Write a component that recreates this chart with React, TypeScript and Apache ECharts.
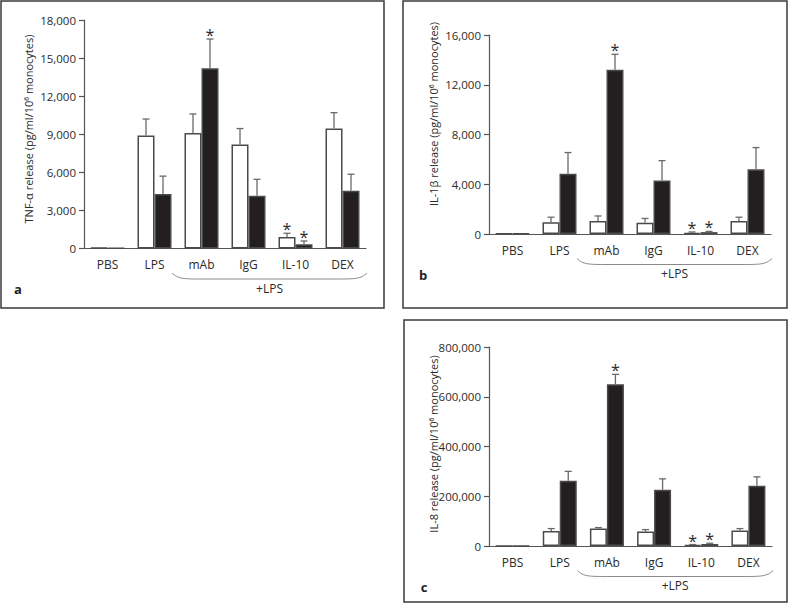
import React, { useEffect, useRef } from 'react';
import * as echarts from 'echarts';

const FONT = '"Open Sans", "Noto Sans", "DejaVu Sans", sans-serif';

const categories = ['PBS', 'LPS', 'mAb', 'IgG', 'IL-10', 'DEX'];

// Panel a: TNF-α
const tnfOpen = [60, 8900, 9100, 8200, 900, 9450];
const tnfOpenSd = [0, 1300, 1500, 1250, 300, 1250];
const tnfFilled = [20, 4300, 14200, 4150, 330, 4550];
const tnfFilledSd = [0, 1400, 2300, 1300, 260, 1300];
const tnfOpenStar = [0, 0, 0, 0, 1, 0];
const tnfFilledStar = [0, 0, 1, 0, 1, 0];

// Panel b: IL-1β
const il1Open = [30, 950, 1050, 900, 100, 1050];
const il1OpenSd = [0, 400, 400, 350, 60, 300];
const il1Filled = [40, 4850, 13200, 4300, 150, 5200];
const il1FilledSd = [0, 1700, 1250, 1600, 60, 1750];
const il1OpenStar = [0, 0, 0, 0, 1, 0];
const il1FilledStar = [0, 0, 1, 0, 1, 0];

// Panel c: IL-8
const il8Open = [1000, 60000, 70000, 58000, 4000, 62000];
const il8OpenSd = [0, 10000, 4000, 8000, 2000, 8000];
const il8Filled = [1000, 262000, 650000, 226000, 8000, 242000];
const il8FilledSd = [0, 38000, 40000, 44000, 3000, 36000];
const il8OpenStar = [0, 0, 0, 0, 1, 0];
const il8FilledStar = [0, 0, 1, 0, 1, 0];

const panels = [
  {
    letter: 'a', title: 'TNF-α release (pg/ml/10⁶ monocytes)',
    open: tnfOpen, openSd: tnfOpenSd, filled: tnfFilled, filledSd: tnfFilledSd,
    openStar: tnfOpenStar, filledStar: tnfFilledStar,
    max: 18000, interval: 3000,
    grid: { left: 84, top: 20, width: 282, height: 228.5 },
    box: { x: 1, y: 1, width: 383, height: 307 },
    titlePos: [28, 129],
  },
  {
    letter: 'b', title: 'IL-1β release (pg/ml/10⁶ monocytes)',
    open: il1Open, openSd: il1OpenSd, filled: il1Filled, filledSd: il1FilledSd,
    openStar: il1OpenStar, filledStar: il1FilledStar,
    max: 16000, interval: 4000,
    grid: { left: 489, top: 35, width: 282, height: 199 },
    box: { x: 403, y: 1, width: 384, height: 307 },
    titlePos: [433, 114],
  },
  {
    letter: 'c', title: 'IL-8 release (pg/ml/10⁶ monocytes)',
    open: il8Open, openSd: il8OpenSd, filled: il8Filled, filledSd: il8FilledSd,
    openStar: il8OpenStar, filledStar: il8FilledStar,
    max: 800000, interval: 200000,
    grid: { left: 489, top: 347, width: 283, height: 199 },
    box: { x: 404, y: 320, width: 383, height: 282 },
    titlePos: [433, 444],
  },
];

const AXIS = '#555';
const TEXT = '#2a2a2a';
const BAR_W = 17;

function errorSeries(idx: number, values: number[], sds: number[], stars: number[], offset: number) {
  return {
    type: 'custom',
    xAxisIndex: idx,
    yAxisIndex: idx,
    z: 5,
    silent: true,
    data: values.map((v, i) => [i, v, sds[i], stars[i]]),
    encode: { x: 0, y: 1 },
    renderItem: (params: any, api: any) => {
      const i = api.value(0);
      const v = api.value(1);
      const sd = api.value(2);
      const st = api.value(3);
      const base = api.coord([i, v]);
      const top = api.coord([i, v + sd]);
      const x = base[0] + offset;
      const children: any[] = [];
      if (sd > 0) {
        children.push({ type: 'line', shape: { x1: x, y1: base[1], x2: x, y2: top[1] }, style: { stroke: '#6a6a6a', lineWidth: 1.3 } });
        children.push({ type: 'line', shape: { x1: x - 3.5, y1: top[1], x2: x + 3.5, y2: top[1] }, style: { stroke: '#6a6a6a', lineWidth: 1.3 } });
      }
      if (st) {
        children.push({ type: 'text', x, y: top[1] - 4, style: { text: '*', fontSize: 16, fill: TEXT, align: 'center', verticalAlign: 'middle', fontFamily: FONT } });
      }
      return { type: 'group', children };
    },
  };
}

function buildOption() {
  const grid: any[] = [];
  const xAxis: any[] = [];
  const yAxis: any[] = [];
  const series: any[] = [];
  const graphic: any[] = [];

  panels.forEach((p, idx) => {
    grid.push({ ...p.grid, containLabel: false });
    xAxis.push({
      type: 'category', gridIndex: idx, data: categories,
      axisLine: { lineStyle: { color: AXIS, width: 1.2 } },
      axisTick: { length: 5, lineStyle: { color: AXIS, width: 1.2 } },
      axisLabel: { color: TEXT, fontSize: 12, fontFamily: FONT, margin: 10 },
    });
    yAxis.push({
      type: 'value', gridIndex: idx, min: 0, max: p.max, interval: p.interval,
      axisLine: { show: true, lineStyle: { color: AXIS, width: 1.2 } },
      axisTick: { show: true, length: 5, lineStyle: { color: AXIS, width: 1.2 } },
      splitLine: { show: false },
      axisLabel: { color: TEXT, fontSize: 11.5, fontFamily: FONT, margin: 8, formatter: (v: number) => v.toLocaleString('en-US') },
    });
    series.push({
      type: 'bar', xAxisIndex: idx, yAxisIndex: idx, data: p.open, barWidth: BAR_W, barGap: '0%',
      itemStyle: { color: '#ffffff', borderColor: '#4a4a4a', borderWidth: 1.5 },
    });
    series.push({
      type: 'bar', xAxisIndex: idx, yAxisIndex: idx, data: p.filled, barWidth: BAR_W, barGap: '0%',
      itemStyle: { color: '#231f20', borderColor: '#4a4a4a', borderWidth: 1.5 },
    });
    series.push(errorSeries(idx, p.open, p.openSd, p.openStar, -BAR_W / 2));
    series.push(errorSeries(idx, p.filled, p.filledSd, p.filledStar, BAR_W / 2));

    const g = p.grid;
    const band = g.width / categories.length;
    const labelY = g.top + g.height + 17.5;
    const x0 = g.left + 2 * band - 6;
    const x1 = g.left + g.width + 1;
    const yT = labelY + 7;
    const yB = labelY + 13;
    const braceStyle = { stroke: '#8a8a8a', lineWidth: 1, fill: null };
    graphic.push({ type: 'rect', shape: p.box, style: { fill: null, stroke: '#3a3a3a', lineWidth: 1.5 }, silent: true });
    graphic.push({ type: 'bezierCurve', shape: { x1: x0, y1: yT, cpx1: x0 + 6, cpy1: yB, cpx2: x0 + 12, cpy2: yB, x2: x0 + 30, y2: yB }, style: braceStyle, silent: true });
    graphic.push({ type: 'line', shape: { x1: x0 + 30, y1: yB, x2: x1 - 30, y2: yB }, style: braceStyle, silent: true });
    graphic.push({ type: 'bezierCurve', shape: { x1: x1 - 30, y1: yB, cpx1: x1 - 12, cpy1: yB, cpx2: x1 - 6, cpy2: yB, x2: x1, y2: yT }, style: braceStyle, silent: true });
    graphic.push({ type: 'text', x: (x0 + x1) / 2, y: labelY + 22, style: { text: '+LPS', fontSize: 12, fill: TEXT, fontFamily: FONT, align: 'center', verticalAlign: 'middle' }, silent: true });
    graphic.push({ type: 'text', x: p.box.x + (idx === 0 ? 17 : 20), y: labelY + 23, style: { text: p.letter, fontSize: 13, fontWeight: 'bold', fill: '#222', fontFamily: FONT, align: 'center', verticalAlign: 'middle' }, silent: true });
    graphic.push({ type: 'text', x: p.titlePos[0], y: p.titlePos[1], rotation: Math.PI / 2, style: { text: p.title, fontSize: 11, fill: TEXT, fontFamily: FONT, align: 'center', verticalAlign: 'middle' }, silent: true });
  });

  return { animation: false, backgroundColor: '#ffffff', grid, xAxis, yAxis, series, graphic };
}

export default function App() {
  const ref = useRef<HTMLDivElement>(null);
  useEffect(() => {
    if (!ref.current) return;
    const chart = echarts.init(ref.current, undefined, { renderer: 'svg' });
    chart.setOption(buildOption() as any);
    return () => chart.dispose();
  }, []);
  return <div ref={ref} style={{ position: 'fixed', left: 0, top: 0, width: 788, height: 604, background: '#fff' }} />;
}
